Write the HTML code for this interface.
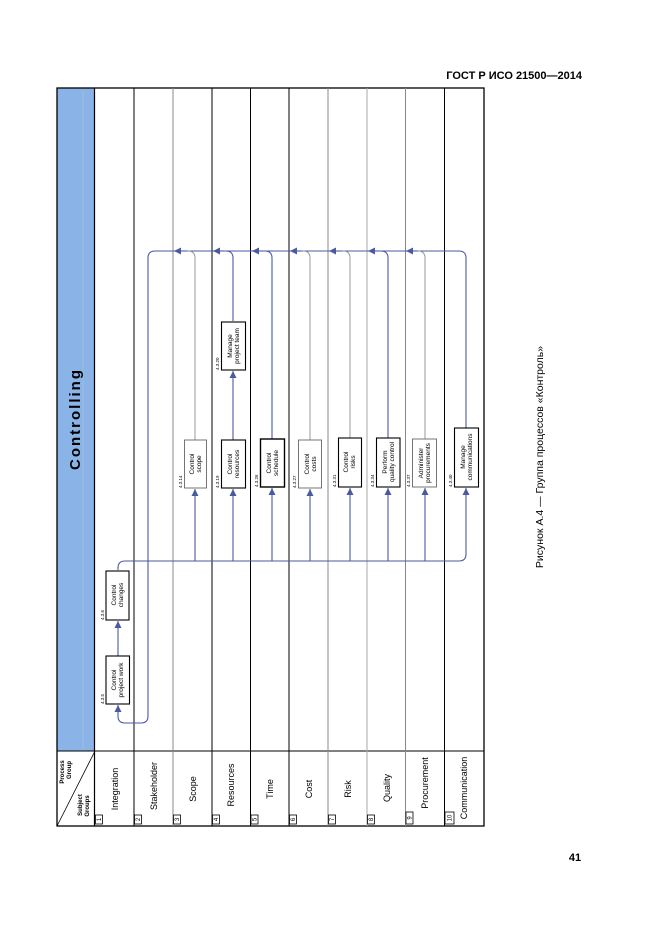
<!DOCTYPE html>
<html><head><meta charset="utf-8"><style>
html,body{margin:0;padding:0;background:#fff}
svg{display:block}
text{font-family:"Liberation Sans",sans-serif}
</style></head><body>
<svg width="661" height="935" viewBox="0 0 661 935" xmlns="http://www.w3.org/2000/svg">
<defs>
<marker id="a" viewBox="0 0 10 10" refX="10" refY="5" markerWidth="7" markerHeight="7" orient="auto-start-reverse" markerUnits="userSpaceOnUse"><path d="M0,0 L10,5 L0,10 z" fill="#4a5aa0"/></marker>
</defs>
<text x="582" y="79" font-size="11" font-weight="bold" text-anchor="end">ГОСТ Р ИСО 21500—2014</text>
<text x="575" y="861" font-size="11" font-weight="bold" text-anchor="middle">41</text>
<text transform="translate(543,457) rotate(-90)" font-size="10.5" text-anchor="middle">Рисунок А.4 — Группа процессов «Контроль»</text>

<!-- blue header -->
<rect x="57" y="88" width="37.5" height="663" fill="#8ab4e8"/>
<line x1="83" y1="90" x2="83" y2="750" stroke="#9fbfe0" stroke-width="1"/>
<text transform="translate(80,419) rotate(-90)" font-size="15" font-weight="bold" letter-spacing="2" text-anchor="middle">Controlling</text>

<!-- grid -->
<g fill="none">
<rect x="57" y="88" width="427" height="738" stroke="#000" stroke-width="1.3"/>
<line x1="57" y1="751" x2="484" y2="751" stroke="#000" stroke-width="1"/>
<line x1="94.5" y1="88" x2="94.5" y2="826" stroke="#000" stroke-width="1.2"/>
<line x1="134" y1="88" x2="134" y2="826" stroke="#000"/>
<line x1="173" y1="88" x2="173" y2="826" stroke="#888"/>
<line x1="212" y1="88" x2="212" y2="826" stroke="#000"/>
<line x1="250.5" y1="88" x2="250.5" y2="826" stroke="#000"/>
<line x1="289" y1="88" x2="289" y2="826" stroke="#000"/>
<line x1="328" y1="88" x2="328" y2="826" stroke="#888"/>
<line x1="367" y1="88" x2="367" y2="826" stroke="#aaa"/>
<line x1="405.5" y1="88" x2="405.5" y2="826" stroke="#888"/>
<line x1="444.5" y1="88" x2="444.5" y2="826" stroke="#000"/>
<line x1="57" y1="826" x2="94.5" y2="752" stroke="#000" stroke-width="0.8"/>
</g>

<!-- header cell text -->
<text transform="translate(64,772) rotate(-90)" font-size="6" font-weight="bold" text-anchor="middle">Process</text>
<text transform="translate(71,770) rotate(-90)" font-size="6" font-weight="bold" text-anchor="middle">Group</text>
<text transform="translate(82,805) rotate(-90)" font-size="6" font-weight="bold" text-anchor="middle">Subject</text>
<text transform="translate(89,806) rotate(-90)" font-size="6" font-weight="bold" text-anchor="middle">Groups</text>

<!-- column labels -->
<g font-size="9" text-anchor="middle">
<text transform="translate(118,789) rotate(-90)">Integration</text>
<text transform="translate(157,786) rotate(-90)">Stakeholder</text>
<text transform="translate(196,789) rotate(-90)">Scope</text>
<text transform="translate(234,785) rotate(-90)">Resources</text>
<text transform="translate(273,789) rotate(-90)">Time</text>
<text transform="translate(312,789) rotate(-90)">Cost</text>
<text transform="translate(351,789) rotate(-90)">Risk</text>
<text transform="translate(390,788) rotate(-90)">Quality</text>
<text transform="translate(428,783) rotate(-90)">Procurement</text>
<text transform="translate(467,788) rotate(-90)">Communication</text>
</g>
<!-- number boxes -->
<g fill="#fff" stroke="#000" stroke-width="0.8">
<rect x="95.5" y="815" width="7" height="9"/><rect x="134.5" y="815" width="7" height="9"/>
<rect x="173.5" y="815" width="7" height="9"/><rect x="212.5" y="815" width="7" height="9"/>
<rect x="251" y="815" width="7" height="9"/><rect x="289.5" y="815" width="7" height="9"/>
<rect x="328.5" y="815" width="7" height="9"/><rect x="367.5" y="815" width="7" height="9"/>
<rect x="406" y="812" width="7" height="12"/><rect x="445" y="812" width="9" height="12"/>
</g>
<g font-size="6" text-anchor="middle">
<text transform="translate(101,819.5) rotate(-90)">1</text><text transform="translate(140,819.5) rotate(-90)">2</text>
<text transform="translate(179,819.5) rotate(-90)">3</text><text transform="translate(218,819.5) rotate(-90)">4</text>
<text transform="translate(256.5,819.5) rotate(-90)">5</text><text transform="translate(295,819.5) rotate(-90)">6</text>
<text transform="translate(334,819.5) rotate(-90)">7</text><text transform="translate(373,819.5) rotate(-90)">8</text>
<text transform="translate(411.5,818) rotate(-90)">9</text><text transform="translate(451.5,818) rotate(-90)">10</text>
</g>

<!-- connectors -->
<g fill="none" stroke="#4a5aa0" stroke-width="1.1">
<!-- top feedback line -->
<path d="M466,428 L466,258 Q466,251 459,251 L155,251 Q148,251 148,258 L148,716 Q148,723 141,723 L125,723 Q118,723 118,716 L118,705" marker-end="url(#a)"/>
<!-- bottom distribution line -->
<path d="M118,570 L118,568 Q118,561 125,561 L459,561 Q466,561 466,554 L466,488" marker-end="url(#a)"/>
<line x1="118" y1="656" x2="118" y2="621" marker-end="url(#a)"/>
<path d="M233,440 L233,371" marker-end="url(#a)"/>
<path d="M233,321 L233,258 Q233,251 226,251"/>
<path d="M233,561 L233,489" marker-end="url(#a)"/>
<path d="M272,439 L272,258 Q272,251 265,251"/>
<path d="M272,561 L272,488" marker-end="url(#a)"/>
<path d="M388,438 L388,258 Q388,251 381,251"/>
<path d="M388,561 L388,488" marker-end="url(#a)"/>
</g>
<g fill="none" stroke="#999" stroke-width="1">
<path d="M195,440 L195,258 Q195,251 188,251"/>
<path d="M310,440 L310,258 Q310,251 303,251"/>
<path d="M350,438 L350,258 Q350,251 343,251"/>
<path d="M425,439 L425,258 Q425,251 418,251"/>
</g>
<g fill="none" stroke="#4a5aa0" stroke-width="1.1">
<path d="M195,561 L195,489" marker-end="url(#a)"/>
<path d="M310,561 L310,489" marker-end="url(#a)"/>
<path d="M350,561 L350,488" marker-end="url(#a)"/>
<path d="M425,561 L425,488" marker-end="url(#a)"/>
<!-- left arrowheads on top line -->
<path d="M186,251 L174,251" marker-end="url(#a)"/>
<path d="M224,251 L213,251" marker-end="url(#a)"/>
<path d="M263,251 L252,251" marker-end="url(#a)"/>
<path d="M301,251 L290,251" marker-end="url(#a)"/>
<path d="M340,251 L329,251" marker-end="url(#a)"/>
<path d="M379,251 L368,251" marker-end="url(#a)"/>
<path d="M417,251 L406,251" marker-end="url(#a)"/>
</g>

<!-- boxes -->
<g fill="#fff" stroke="#000" stroke-width="1.1">
<rect x="106" y="656" width="23.5" height="48"/>
<rect x="106" y="571" width="23" height="49"/>
<rect x="221.5" y="322" width="24" height="48"/>
<rect x="221.5" y="440" width="24" height="48"/>
<rect x="260.5" y="439" width="24" height="48" stroke-width="1.4"/>
<rect x="338.5" y="438" width="23" height="49"/>
<rect x="376.5" y="438" width="23.5" height="49"/>
<rect x="454.5" y="428" width="24" height="59"/>
</g>
<g fill="#fff" stroke="#666" stroke-width="0.9">
<rect x="184.5" y="440" width="22" height="48"/>
<rect x="298.5" y="440" width="23" height="48"/>
<rect x="412.5" y="439" width="24" height="48"/>
</g>

<!-- box texts -->
<g font-size="6.5" text-anchor="middle">
<text transform="translate(116,680) rotate(-90)">Control</text><text transform="translate(123,680) rotate(-90)">project work</text>
<text transform="translate(116,595) rotate(-90)">Control</text><text transform="translate(123,595) rotate(-90)">changes</text>
<text transform="translate(232,346) rotate(-90)">Manage</text><text transform="translate(239,346) rotate(-90)">project team</text>
<text transform="translate(194,464) rotate(-90)">Control</text><text transform="translate(201,464) rotate(-90)">scope</text>
<text transform="translate(232,464) rotate(-90)">Control</text><text transform="translate(239,464) rotate(-90)">resources</text>
<text transform="translate(271,463) rotate(-90)">Control</text><text transform="translate(278,463) rotate(-90)">schedule</text>
<text transform="translate(309,464) rotate(-90)">Control</text><text transform="translate(316,464) rotate(-90)">costs</text>
<text transform="translate(348,462) rotate(-90)">Control</text><text transform="translate(355,462) rotate(-90)">risks</text>
<text transform="translate(387,462) rotate(-90)">Perform</text><text transform="translate(394,462) rotate(-90)">quality control</text>
<text transform="translate(423,463) rotate(-90)">Administer</text><text transform="translate(430,463) rotate(-90)">procurements</text>
<text transform="translate(465,457) rotate(-90)">Manage</text><text transform="translate(472,457) rotate(-90)">communications</text>
</g>
<g font-size="4.5" text-anchor="start">
<text transform="translate(104,704) rotate(-90)">4.3.5</text>
<text transform="translate(104,620) rotate(-90)">4.3.6</text>
<text transform="translate(219,370) rotate(-90)">4.3.20</text>
<text transform="translate(182,488) rotate(-90)">4.3.14</text>
<text transform="translate(219,488) rotate(-90)">4.3.19</text>
<text transform="translate(258,487) rotate(-90)">4.3.26</text>
<text transform="translate(296,488) rotate(-90)">4.3.27</text>
<text transform="translate(336,487) rotate(-90)">4.3.31</text>
<text transform="translate(374,487) rotate(-90)">4.3.34</text>
<text transform="translate(410,487) rotate(-90)">4.3.37</text>
<text transform="translate(452,487) rotate(-90)">4.3.40</text>
</g>
</svg>
</body></html>
